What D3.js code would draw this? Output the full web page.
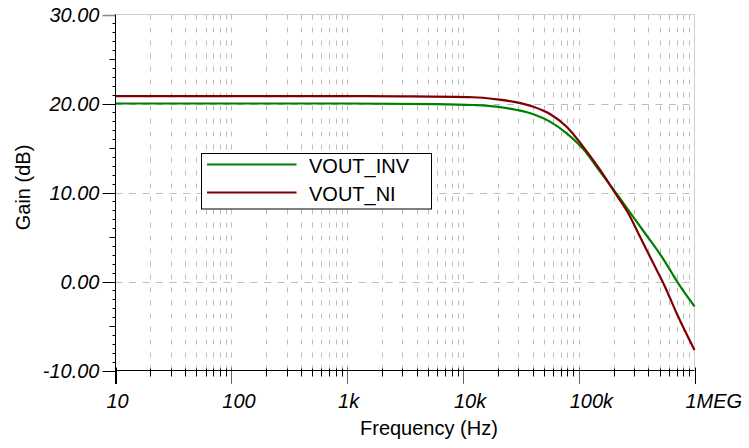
<!DOCTYPE html>
<html>
<head>
<meta charset="utf-8">
<script src="https://cdn.jsdelivr.net/npm/d3@7"></script>
<style>
  body { margin: 0; background: #fff; }
  text { font-family: Arial, "Liberation Sans", sans-serif; fill: #000; }
</style>
</head>
<body>
<div id="chart"></div>
<script>
// values (frequency in Hz, gain in dB)
const invFreq = [10, 1000, 5900, 12300, 19600, 29200, 40600, 56500, 78700, 110000, 153000, 206000, 268000, 374000, 521000, 724000, 1000000];
const invGain = [20.0, 20.0, 19.94, 19.83, 19.64, 19.27, 18.79, 17.96, 16.65, 14.85, 12.34, 10.09, 8.03, 5.42, 2.79, -0.2, -2.8];
const niFreq = [10, 1000, 2900, 12300, 19600, 29200, 40600, 56500, 78700, 110000, 153000, 206000, 268000, 327000, 441000, 556000, 701000, 1000000];
const niGain = [20.83, 20.83, 20.8, 20.7, 20.47, 20.13, 19.64, 18.82, 17.39, 15.1, 12.53, 9.95, 7.66, 5.42, 2.04, -0.58, -3.57, -7.7];

const seriesNames = ["VOUT_INV", "VOUT_NI"];
const seriesColors = ["#008000", "#800000"];

const decadeTicks = [10, 100, 1000, 10000, 100000, 1000000];
const decadeLabels = ["10", "100", "1k", "10k", "100k", "1MEG"];
const gainTicks = [-10, 0, 10, 20, 30];
const gainLabels = ["-10.00", "0.00", "10.00", "20.00", "30.00"];

const width = 749, height = 448;
const margin = { top: 14.5, right: 54.5, bottom: 77.5, left: 115.5 };

const svg = d3.select("#chart").append("svg")
  .attr("width", width)
  .attr("height", height);

const x = d3.scaleLog()
  .domain([10, 1000000])
  .range([margin.left, width - margin.right]);

const y = d3.scaleLinear()
  .domain([-10, 30])
  .range([height - margin.bottom, margin.top]);

const x0 = x.range()[0], x1 = x.range()[1];
const y0 = y.range()[0], y1 = y.range()[1];

// minor frequencies 2..9 per decade, plus the inner decades
const minorFreqs = [];
decadeTicks.slice(0, -1).forEach((d) => {
  for (let k = 2; k <= 9; k++) minorFreqs.push(d * k);
});
const gridFreqs = minorFreqs.concat(decadeTicks.slice(1, -1));

// grid
svg.append("g")
  .selectAll("line")
  .data(gridFreqs)
  .join("line")
  .attr("x1", (d) => Math.round(x(d)) + 0.5)
  .attr("x2", (d) => Math.round(x(d)) + 0.5)
  .attr("y1", y1)
  .attr("y2", y0)
  .attr("stroke", "#bdbdbd")
  .attr("stroke-dasharray", "5,8");

svg.append("g")
  .selectAll("line")
  .data([0, 10, 20])
  .join("line")
  .attr("x1", x0)
  .attr("x2", x1)
  .attr("y1", (d) => Math.round(y(d)) + 0.5)
  .attr("y2", (d) => Math.round(y(d)) + 0.5)
  .attr("stroke", "#bdbdbd")
  .attr("stroke-dasharray", "7,6.5");

// top and right borders (light)
svg.append("path")
  .attr("d", `M${x0},${y1}H${x1}V${y0}`)
  .attr("fill", "none")
  .attr("stroke", "#cfcfcf");

// curves
const line = d3.line()
  .x((d) => x(d[0]))
  .y((d) => y(d[1]))
  .curve(d3.curveMonotoneX);

const series = [
  d3.zip(invFreq, invGain),
  d3.zip(niFreq, niGain),
];

svg.append("g")
  .selectAll("path")
  .data(series)
  .join("path")
  .attr("d", line)
  .attr("fill", "none")
  .attr("stroke", (d, i) => seriesColors[i])
  .attr("stroke-width", 2.2);

// left axis
const yMinor = d3.range(-10, 30, 1).filter((d) => d % 10 !== 0);
svg.append("g")
  .selectAll("line")
  .data(yMinor)
  .join("line")
  .attr("x1", (d) => x0 - (d % 5 === 0 ? 6 : 3))
  .attr("x2", x0)
  .attr("y1", (d) => Math.round(y(d)) + 0.5)
  .attr("y2", (d) => Math.round(y(d)) + 0.5)
  .attr("stroke", "#000");

svg.append("g")
  .selectAll("line")
  .data(gainTicks)
  .join("line")
  .attr("x1", x0 - 13)
  .attr("x2", x0)
  .attr("y1", (d) => Math.round(y(d)) + 0.5)
  .attr("y2", (d) => Math.round(y(d)) + 0.5)
  .attr("stroke", (d) => (d === 30 ? "#8a8a8a" : "#000"))
  .attr("stroke-width", (d) => (d === 30 ? 1.6 : 1));

svg.append("g")
  .selectAll("text")
  .data(gainTicks)
  .join("text")
  .attr("x", x0 - 16)
  .attr("y", (d) => y(d) + 7.5)
  .attr("text-anchor", "end")
  .style("font-size", "20px")
  .style("font-style", "italic")
  .text((d, i) => gainLabels[i]);

// bottom axis
svg.append("g")
  .selectAll("line")
  .data(minorFreqs)
  .join("line")
  .attr("x1", (d) => Math.round(x(d)) + 0.5)
  .attr("x2", (d) => Math.round(x(d)) + 0.5)
  .attr("y1", y0 - 2)
  .attr("y2", y0 + 6)
  .attr("stroke", "#000");

svg.append("g")
  .selectAll("line")
  .data(decadeTicks)
  .join("line")
  .attr("x1", (d) => Math.round(x(d)) + 0.5)
  .attr("x2", (d) => Math.round(x(d)) + 0.5)
  .attr("y1", y0 - 3)
  .attr("y2", y0 + 13.5)
  .attr("stroke", (d, i) => (i === 0 || i === decadeTicks.length - 1 ? "#000" : "#666"));

svg.append("g")
  .selectAll("text")
  .data(decadeTicks)
  .join("text")
  .attr("x", (d) => x(d) - 9)
  .attr("y", y0 + 37.5)
  .style("font-size", "20px")
  .style("font-style", "italic")
  .text((d, i) => decadeLabels[i]);

svg.append("path")
  .attr("d", `M${x0},${y1}V${y0 + 13.5}M${x0},${y0}H${x1}`)
  .attr("fill", "none")
  .attr("stroke", "#000");

// axis titles
svg.append("text")
  .attr("x", 360)
  .attr("y", 435)
  .style("font-size", "20px")
  .text("Frequency (Hz)");

svg.append("text")
  .attr("transform", `translate(30,${(y0 + y1) / 2 - 5}) rotate(-90)`)
  .attr("text-anchor", "middle")
  .style("font-size", "20px")
  .text("Gain (dB)");

// legend
const legend = svg.append("g").attr("transform", "translate(201.5,153.5)");
legend.append("rect")
  .attr("width", 230)
  .attr("height", 55.5)
  .attr("fill", "#fff")
  .attr("stroke", "#000");

const items = legend.selectAll("g")
  .data(seriesNames)
  .join("g")
  .attr("transform", (d, i) => `translate(0,${11 + i * 28})`);

items.append("line")
  .attr("x1", 5.5)
  .attr("x2", 95)
  .attr("stroke", (d, i) => seriesColors[i])
  .attr("stroke-width", 2.2);

items.append("text")
  .attr("x", 107.5)
  .attr("y", 8.5)
  .style("font-size", "20px")
  .text((d) => d);
</script>
</body>
</html>
